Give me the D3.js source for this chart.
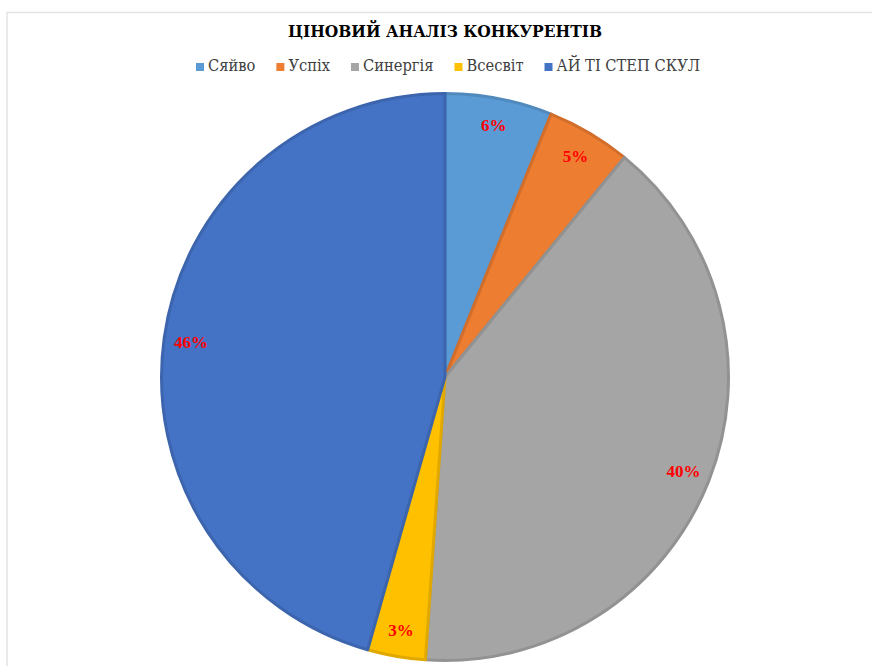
<!DOCTYPE html>
<html>
<head>
<meta charset="utf-8">
<script src="https://cdn.jsdelivr.net/npm/d3@7"></script>
<style>
  body { margin: 0; background: #fff; }
  svg { display: block; }
  text { font-family: "DejaVu Serif", "Liberation Serif", serif; }
  text.lbl { font-family: "Liberation Serif", "DejaVu Serif", serif; }
</style>
</head>
<body>
<div id="chart"></div>
<script>
var categories = ["Сяйво", "Успіх", "Синергія", "Всесвіт", "АЙ ТІ СТЕП СКУЛ"];
// shares; labels show them rounded
var values = [6.1, 4.8, 40.2, 3.3, 45.6];
var colors = ["#5b9bd5", "#ed7d31", "#a5a5a5", "#ffc000", "#4472c4"];

var width = 872, height = 666;
var cx = 445, cy = 377, r = 285;

var svg = d3.select("#chart").append("svg")
  .attr("width", width)
  .attr("height", height);

// frame
svg.append("path")
  .attr("d", "M7,666 V12.5 H872")
  .attr("fill", "none")
  .attr("stroke", "#e3e3e3")
  .attr("stroke-width", 1.5);

// title (DejaVu is wider than Times, so squeeze it to the original width)
svg.append("text")
  .attr("x", 445)
  .attr("y", 37)
  .attr("text-anchor", "middle")
  .attr("textLength", 314)
  .attr("lengthAdjust", "spacingAndGlyphs")
  .style("font-weight", "bold")
  .style("font-size", "16.5px")
  .style("fill", "#000")
  .text("ЦІНОВИЙ АНАЛІЗ КОНКУРЕНТІВ");

// legend
var legend = svg.append("g");
var items = legend.selectAll("g")
  .data(categories)
  .enter()
  .append("g");
items.append("rect")
  .attr("x", 0).attr("y", 63)
  .attr("width", 8).attr("height", 8)
  .attr("fill", function(d, i) { return colors[i]; });
var labels = items.append("text")
  .attr("x", 12).attr("y", 71)
  .style("font-size", "16.5px")
  .style("fill", "#404040")
  .text(function(d) { return d; });

var natural = [];
labels.each(function() { natural.push(this.getComputedTextLength()); });
var k = 360 / d3.sum(natural);
var lx = 196;
items.each(function(d, i) {
  var w = natural[i] * k;
  d3.select(this).attr("transform", "translate(" + lx + ",0)")
    .select("text")
    .attr("textLength", w)
    .attr("lengthAdjust", "spacingAndGlyphs");
  lx += 12 + w + 21;
});

var total = d3.sum(values);
var pie = d3.pie().sort(null).value(function(d) { return d; });
var arcs = pie(values);
var arc = d3.arc().innerRadius(0).outerRadius(r - 1.5);
var labelArc = d3.arc().innerRadius(r * 0.9).outerRadius(r * 0.9);

var g = svg.append("g").attr("transform", "translate(" + cx + "," + cy + ")");

g.selectAll("path.slice")
  .data(arcs)
  .enter()
  .append("path")
  .attr("class", "slice")
  .attr("d", arc)
  .attr("fill", function(d, i) { return colors[i]; })
  .attr("stroke", function(d, i) { return d3.color(colors[i]).darker(0.35); })
  .attr("stroke-width", 3)
  .attr("stroke-linejoin", "round");

g.selectAll("text.lbl")
  .data(arcs)
  .enter()
  .append("text")
  .attr("class", "lbl")
  .attr("transform", function(d) { return "translate(" + labelArc.centroid(d) + ")"; })
  .attr("text-anchor", "middle")
  .attr("dy", "0.35em")
  .style("font-weight", "bold")
  .style("font-size", "17px")
  .style("fill", "#ff0000")
  .text(function(d) { return Math.round(d.data / total * 100) + "%"; });
</script>
</body>
</html>
